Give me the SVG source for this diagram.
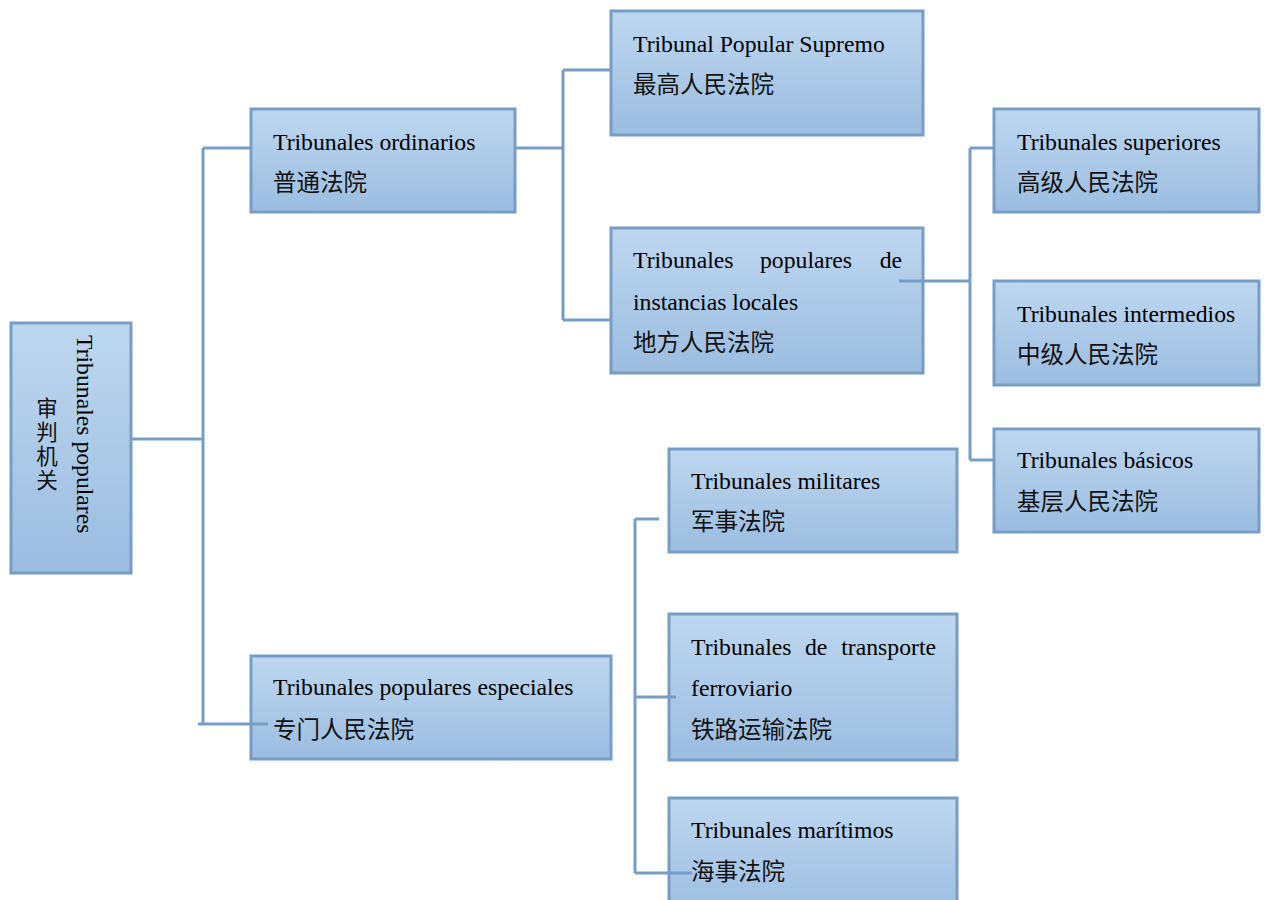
<svg xmlns="http://www.w3.org/2000/svg" width="1267" height="900" viewBox="0 0 1267 900">
<defs>
<linearGradient id="g" x1="0" y1="0" x2="0" y2="1">
<stop offset="0" stop-color="#BED7F0"/>
<stop offset="1" stop-color="#9BBDE0"/>
</linearGradient>
<style>
.box{fill:url(#g);stroke:#779DC6;stroke-width:3}
.t{font-family:"Liberation Serif","Noto Sans CJK SC",serif;font-size:23.7px;fill:#000}
.c{font-family:"Liberation Serif","Noto Sans CJK SC",serif;font-size:23.5px;fill:#111}
.v{font-family:"Liberation Serif","Noto Sans CJK SC",serif;font-size:21.5px;fill:#111}
.ln{fill:none;stroke:#779DC6;stroke-width:3}
</style>
</defs>
<rect width="1267" height="900" fill="#fff"/>

<g id="root">
<rect class="box" x="11" y="323" width="120" height="250"/>
<text class="t" transform="translate(77,335) rotate(90)">Tribunales populares</text>
<text class="v" x="47" y="416" text-anchor="middle">审</text>
<text class="v" x="47" y="440" text-anchor="middle">判</text>
<text class="v" x="47" y="464" text-anchor="middle">机</text>
<text class="v" x="47" y="488" text-anchor="middle">关</text>
</g>

<g id="ordinarios">
<rect class="box" x="251" y="109" width="264" height="103"/>
<text class="t" x="273" y="150">Tribunales ordinarios</text>
<text class="c" x="273" y="191">普通法院</text>
</g>

<g id="supremo">
<rect class="box" x="611" y="11" width="312" height="124"/>
<text class="t" x="633" y="52">Tribunal Popular Supremo</text>
<text class="c" x="633" y="93">最高人民法院</text>
</g>

<g id="locales">
<rect class="box" x="611" y="228" width="312" height="145"/>
<text class="t" x="633" y="268">Tribunales</text>
<text class="t" x="760" y="268">populares</text>
<text class="t" x="902" y="268" text-anchor="end">de</text>
<text class="t" x="633" y="310">instancias locales</text>
<text class="c" x="633" y="351">地方人民法院</text>
</g>

<g id="superiores">
<rect class="box" x="994" y="109" width="265" height="103"/>
<text class="t" x="1017" y="150">Tribunales superiores</text>
<text class="c" x="1017" y="191">高级人民法院</text>
</g>

<g id="intermedios">
<rect class="box" x="994" y="281" width="265" height="104"/>
<text class="t" x="1017" y="322">Tribunales intermedios</text>
<text class="c" x="1017" y="363">中级人民法院</text>
</g>

<g id="basicos">
<rect class="box" x="994" y="429" width="265" height="103"/>
<text class="t" x="1017" y="468">Tribunales básicos</text>
<text class="c" x="1017" y="510">基层人民法院</text>
</g>

<g id="especiales">
<rect class="box" x="251" y="656" width="360" height="103"/>
<text class="t" x="273" y="695">Tribunales populares especiales</text>
<text class="c" x="273" y="738">专门人民法院</text>
</g>

<g id="militares">
<rect class="box" x="669" y="449" width="288" height="103"/>
<text class="t" x="691" y="489">Tribunales militares</text>
<text class="c" x="691" y="530">军事法院</text>
</g>

<g id="ferroviario">
<rect class="box" x="669" y="614" width="288" height="146"/>
<text class="t" x="691" y="655">Tribunales</text>
<text class="t" x="805" y="655">de</text>
<text class="t" x="936" y="655" text-anchor="end">transporte</text>
<text class="t" x="691" y="696">ferroviario</text>
<text class="c" x="691" y="738">铁路运输法院</text>
</g>

<g id="maritimos">
<rect class="box" x="669" y="798" width="288" height="120"/>
<text class="t" x="691" y="838">Tribunales marítimos</text>
<text class="c" x="691" y="880">海事法院</text>
</g>

<g id="connectors">
<path class="ln" d="M131,439 H203 M203,148 V724 M203,148 H251 M198,724 H268"/>
<path class="ln" d="M515,148 H563 M563,70 V320 M563,70 H611 M563,320 H611"/>
<path class="ln" d="M899,281 H970 M970,148 V460 M970,148 H994 M970,460 H994"/>
<path class="ln" d="M635,519 V873 M635,519 H659 M635,697 H676 M635,873 H692"/>
</g>
</svg>
